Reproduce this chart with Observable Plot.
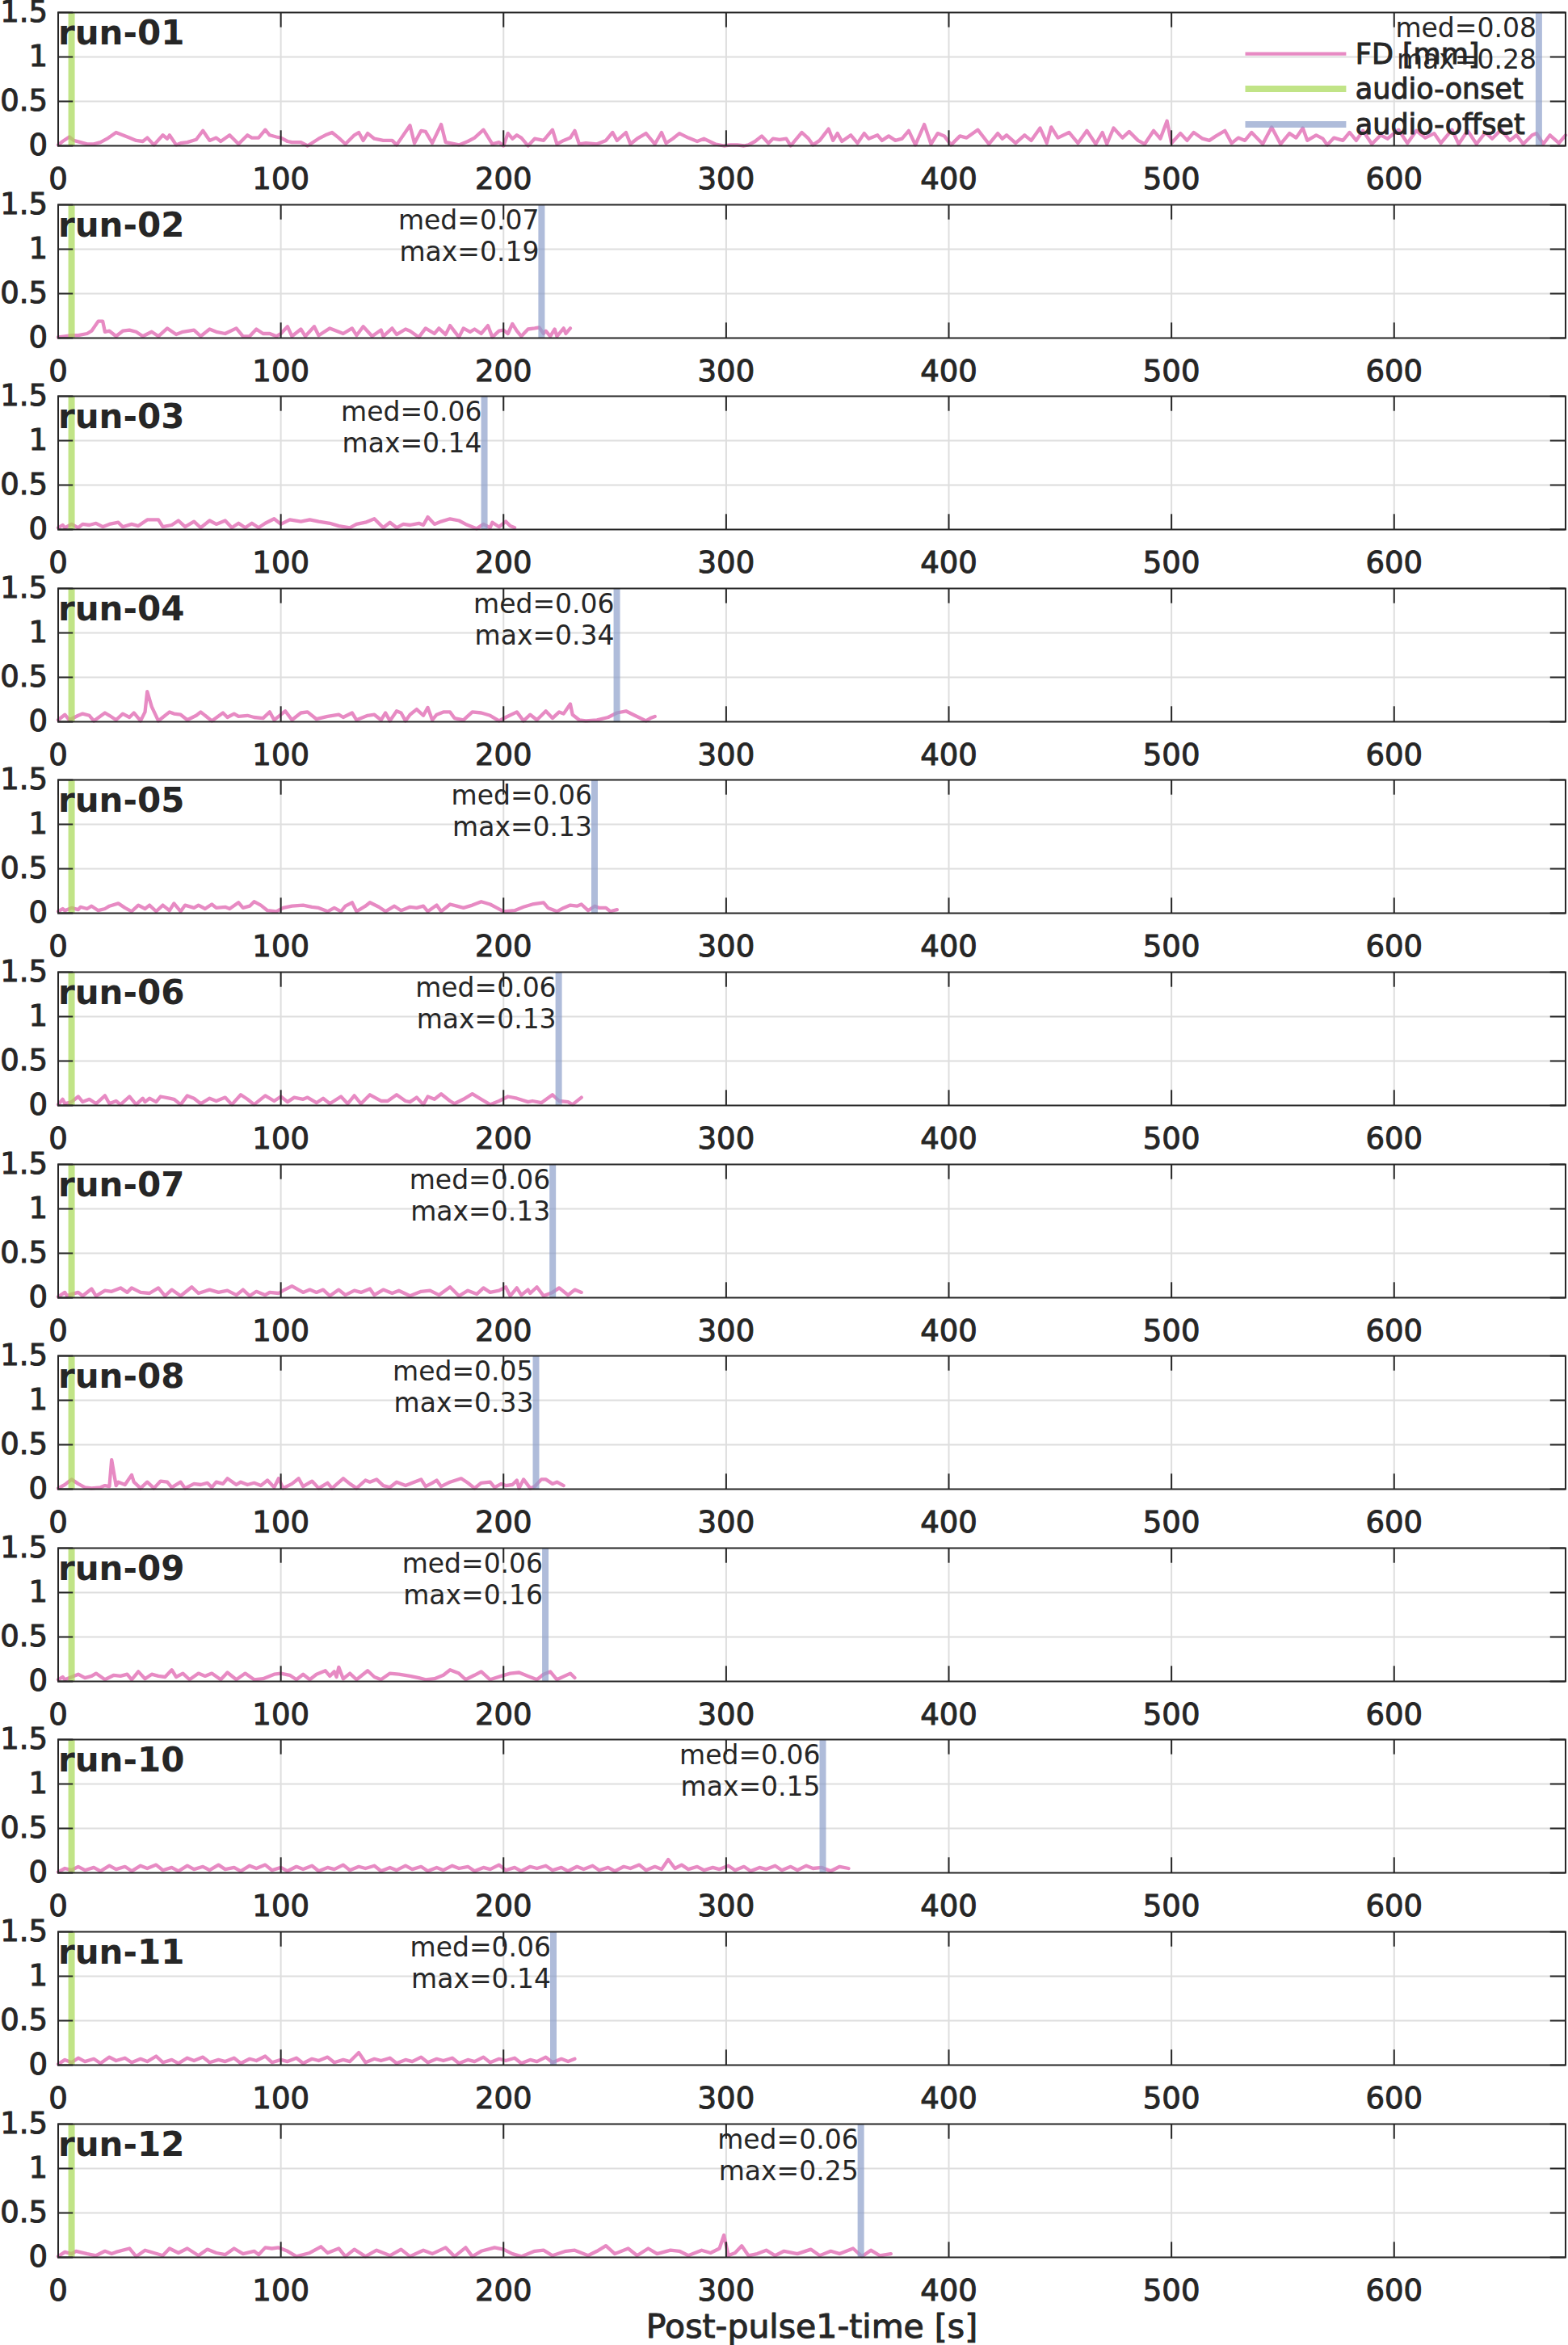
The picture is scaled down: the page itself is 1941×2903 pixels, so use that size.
<!DOCTYPE html>
<html><head><meta charset="utf-8">
<script src="https://cdn.jsdelivr.net/npm/d3@7"></script>
<script src="https://cdn.jsdelivr.net/npm/@observablehq/plot@0.6"></script>
<style>
body{margin:0;background:#fff;}
#chart{position:relative;width:1941px;height:2903px;overflow:hidden;background:#fff}
#chart svg{position:absolute;left:0;overflow:visible;max-width:none}
</style></head><body><div id="chart"></div>
<script>
// ---- data ----
const xTicks = [0, 100, 200, 300, 400, 500, 600];
const yTicks = [0, 0.5, 1, 1.5];
const xDomain = [0, 677];
const yDomain = [0, 1.5];
const runNames = ["run-01","run-02","run-03","run-04","run-05","run-06","run-07","run-08","run-09","run-10","run-11","run-12"];
const onsets = [6, 6, 6, 6, 6, 6, 6, 6, 6, 6, 6, 6];
const offsets = [665, 217.1, 191.4, 250.9, 240.9, 224.8, 222.1, 214.6, 218.8, 343.4, 222.4, 360.5];
const medLabels = ["0.08","0.07","0.06","0.06","0.06","0.06","0.06","0.05","0.06","0.06","0.06","0.06"];
const maxLabels = ["0.28","0.19","0.14","0.34","0.13","0.13","0.13","0.33","0.16","0.15","0.14","0.25"];
const legendLabels = ["FD [mm]", "audio-onset", "audio-offset"];
const xLabel = "Post-pulse1-time [s]";

// FD series: [time s, FD mm]
const run01 = [[0,.01],[2,.05],[5,.10],[7,.06],[10,.04],[13,.02],[16,.02],[19,.04],[22,.08],[26,.15],[29,.12],[32,.09],[35,.06],[38,.05],[40,.09],[43,.01],[47,.12],[49,.08],[50,.12],[53,.01],[55,.03],[58,.04],[62,.07],[65,.17],[68,.06],[71,.09],[73,.05],[77,.12],[81,.02],[85,.12],[87,.09],[90,.09],[93,.18],[95,.12],[98,.10],[100,.09],[103,.05],[105,.04],[109,.04],[112,.00],[117,.08],[120,.12],[123,.15],[126,.09],[129,.02],[133,.12],[135,.15],[137,.06],[139,.14],[142,.08],[146,.06],[150,.06],[152,.01],[158,.23],[160,.03],[163,.17],[165,.16],[168,.03],[172,.24],[174,.04],[176,.03],[180,.01],[184,.05],[187,.09],[191,.18],[195,.02],[198,.04],[200,.00],[202,.14],[204,.08],[206,.12],[208,.09],[211,.00],[214,.08],[218,.06],[222,.18],[224,.02],[227,.06],[230,.09],[232,.17],[234,.02],[237,.03],[242,.02],[246,.06],[249,.15],[251,.06],[255,.15],[257,.02],[260,.08],[264,.14],[268,.02],[271,.15],[273,.03],[276,.08],[279,.14],[283,.09],[287,.05],[290,.08],[295,.02],[299,.00],[302,.01],[305,.01],[308,.00],[310,.01],[313,.05],[316,.11],[319,.03],[321,.08],[324,.07],[327,.08],[329,.00],[334,.15],[337,.08],[339,.01],[342,.06],[346,.19],[348,.06],[350,.14],[352,.05],[356,.12],[359,.03],[362,.14],[364,.08],[368,.12],[370,.06],[373,.11],[376,.06],[379,.08],[382,.17],[385,.01],[389,.24],[392,.02],[395,.14],[398,.11],[401,.01],[405,.11],[408,.09],[413,.18],[418,.02],[422,.14],[424,.08],[426,.12],[430,.03],[434,.12],[437,.06],[441,.20],[444,.03],[446,.21],[449,.09],[454,.15],[458,.03],[462,.17],[466,.02],[469,.15],[471,.02],[474,.20],[478,.09],[481,.16],[485,.06],[488,.02],[492,.17],[495,.08],[498,.28],[500,.03],[504,.14],[507,.06],[510,.15],[514,.08],[517,.06],[520,.11],[524,.17],[527,.03],[530,.09],[533,.06],[536,.15],[541,.02],[545,.21],[549,.02],[553,.14],[556,.09],[559,.20],[561,.06],[565,.12],[568,.08],[570,.01],[573,.09],[577,.06],[580,.15],[583,.06],[586,.17],[590,.02],[594,.12],[597,.08],[602,.18],[606,.03],[610,.17],[614,.09],[618,.14],[621,.03],[626,.18],[629,.02],[633,.17],[637,.02],[641,.15],[644,.08],[648,.18],[652,.06],[655,.12],[658,.02],[662,.12],[664,.14],[667,.02],[670,.12],[674,.03],[677,.12]];
const run02 = [[0,.01],[3,.02],[6,.03],[9,.03],[13,.05],[15,.08],[18,.19],[20,.19],[21,.07],[23,.08],[26,.02],[29,.08],[32,.09],[35,.07],[38,.02],[42,.07],[45,.02],[49,.11],[53,.04],[56,.07],[61,.09],[64,.02],[68,.10],[71,.07],[75,.05],[80,.11],[83,.02],[86,.02],[89,.10],[92,.05],[95,.05],[98,.02],[100,.05],[103,.13],[105,.02],[109,.10],[111,.02],[115,.13],[117,.03],[122,.11],[126,.07],[128,.05],[132,.11],[134,.03],[137,.13],[141,.02],[145,.09],[146,.02],[150,.11],[152,.04],[156,.10],[158,.08],[162,.01],[165,.11],[169,.05],[171,.11],[174,.04],[176,.14],[180,.01],[182,.11],[185,.07],[187,.10],[190,.05],[193,.14],[195,.01],[198,.08],[200,.09],[202,.05],[204,.16],[206,.08],[208,.02],[211,.10],[214,.11],[216,.12],[218,.05],[219,.08],[221,.02],[223,.10],[224,.02],[227,.11],[228,.05],[230,.11]];
const run03 = [[0,.02],[2,.05],[3,.02],[6,.06],[9,.02],[11,.06],[14,.05],[17,.07],[20,.03],[23,.06],[27,.08],[29,.03],[33,.06],[36,.04],[40,.11],[45,.11],[47,.03],[51,.05],[54,.10],[57,.03],[61,.09],[64,.02],[68,.10],[71,.06],[75,.10],[78,.02],[81,.07],[84,.02],[87,.07],[90,.02],[93,.07],[97,.12],[100,.06],[104,.11],[109,.09],[113,.11],[117,.09],[122,.07],[126,.04],[131,.02],[134,.06],[138,.08],[142,.12],[146,.02],[149,.08],[152,.02],[155,.06],[158,.05],[162,.07],[164,.05],[166,.14],[169,.06],[172,.09],[176,.12],[180,.10],[183,.06],[188,.01],[191,.06],[194,.02],[195,.08],[198,.03],[201,.09],[203,.04],[205,.02]];
const run04 = [[0,.02],[3,.08],[5,.02],[9,.07],[11,.09],[14,.07],[16,.01],[21,.10],[23,.07],[26,.02],[29,.09],[32,.05],[34,.10],[37,.01],[39,.11],[40,.34],[42,.17],[45,.01],[47,.05],[50,.11],[52,.09],[55,.08],[58,.02],[62,.07],[64,.11],[67,.05],[69,.01],[74,.10],[76,.05],[79,.09],[81,.06],[85,.07],[88,.05],[92,.04],[95,.11],[97,.02],[99,.06],[102,.12],[105,.02],[109,.10],[112,.11],[116,.03],[121,.06],[126,.08],[128,.05],[132,.10],[134,.02],[139,.07],[142,.08],[145,.02],[147,.10],[149,.01],[152,.12],[154,.10],[156,.01],[158,.08],[161,.14],[164,.07],[166,.16],[168,.02],[170,.08],[173,.11],[176,.11],[178,.04],[182,.02],[186,.11],[190,.10],[194,.07],[198,.01],[201,.05],[206,.11],[209,.01],[212,.08],[215,.02],[219,.12],[222,.04],[225,.11],[227,.09],[230,.20],[231,.08],[234,.02],[237,.01],[242,.02],[247,.05],[251,.10],[255,.12],[259,.07],[264,.01],[266,.04],[268,.06]];
const run05 = [[0,.02],[2,.05],[3,.03],[6,.06],[9,.04],[10,.07],[13,.05],[15,.08],[18,.03],[21,.05],[23,.08],[27,.11],[30,.06],[33,.02],[36,.09],[39,.05],[41,.09],[44,.02],[47,.09],[50,.03],[52,.11],[55,.02],[57,.09],[61,.06],[63,.09],[66,.05],[69,.10],[71,.06],[75,.07],[77,.05],[81,.12],[83,.06],[86,.08],[88,.13],[91,.09],[94,.03],[98,.02],[101,.06],[105,.08],[110,.09],[114,.07],[117,.06],[121,.02],[124,.06],[127,.02],[129,.08],[132,.12],[134,.02],[138,.08],[140,.12],[144,.07],[147,.02],[151,.08],[154,.03],[158,.07],[161,.06],[164,.08],[166,.02],[170,.09],[172,.02],[176,.10],[179,.08],[182,.06],[186,.09],[190,.13],[194,.10],[197,.06],[200,.02],[205,.03],[209,.07],[213,.10],[218,.12],[220,.06],[224,.02],[227,.06],[230,.09],[233,.08],[235,.10],[238,.03],[241,.08],[243,.06],[246,.06],[248,.02],[251,.04]];
const run06 = [[0,.01],[2,.07],[3,.02],[6,.04],[9,.10],[11,.04],[14,.07],[17,.02],[21,.11],[23,.02],[26,.05],[28,.01],[32,.10],[35,.01],[38,.08],[39,.04],[41,.08],[44,.04],[46,.10],[50,.08],[52,.07],[55,.01],[58,.11],[61,.08],[64,.02],[68,.08],[71,.05],[75,.09],[78,.01],[82,.12],[85,.07],[88,.01],[93,.11],[97,.05],[100,.10],[103,.04],[106,.09],[110,.07],[112,.09],[116,.03],[119,.08],[122,.02],[127,.10],[130,.02],[133,.11],[136,.02],[140,.12],[145,.05],[148,.05],[152,.12],[156,.05],[158,.04],[161,.09],[164,.01],[166,.10],[169,.07],[172,.13],[176,.05],[178,.02],[182,.07],[186,.13],[190,.07],[194,.01],[198,.05],[202,.10],[206,.08],[211,.04],[213,.05],[217,.03],[222,.12],[225,.05],[229,.04],[231,.01],[235,.09]];
const run07 = [[0,.01],[3,.06],[4,.02],[6,.04],[9,.06],[11,.02],[15,.10],[17,.02],[21,.08],[24,.07],[28,.11],[31,.06],[33,.11],[37,.06],[41,.05],[45,.11],[48,.02],[51,.09],[55,.02],[60,.12],[63,.05],[68,.09],[72,.06],[76,.08],[80,.03],[83,.09],[86,.02],[89,.07],[93,.03],[95,.06],[99,.05],[101,.08],[105,.13],[110,.06],[113,.09],[116,.06],[119,.09],[122,.02],[126,.09],[129,.03],[133,.08],[136,.06],[140,.10],[142,.03],[146,.09],[150,.05],[153,.08],[158,.02],[163,.07],[167,.08],[171,.03],[176,.12],[180,.02],[184,.08],[188,.04],[191,.11],[194,.06],[198,.08],[201,.12],[203,.02],[206,.11],[208,.03],[211,.09],[212,.05],[215,.12],[218,.02],[222,.06],[225,.11],[229,.03],[232,.09],[235,.06]];
const run08 = [[0,.01],[3,.05],[6,.11],[9,.06],[12,.02],[15,.01],[19,.02],[21,.04],[23,.03],[24,.33],[26,.04],[27,.08],[30,.05],[33,.16],[34,.08],[37,.01],[40,.08],[43,.01],[46,.09],[49,.08],[51,.02],[55,.08],[57,.01],[61,.06],[64,.05],[67,.07],[69,.02],[71,.08],[74,.06],[76,.12],[80,.05],[82,.08],[85,.05],[88,.07],[91,.04],[94,.10],[97,.02],[99,.12],[101,.01],[105,.06],[108,.12],[110,.03],[114,.09],[117,.01],[121,.07],[123,.01],[128,.12],[131,.06],[134,.01],[138,.10],[140,.08],[143,.11],[146,.04],[149,.02],[152,.08],[156,.04],[159,.07],[163,.11],[165,.03],[168,.07],[170,.10],[172,.03],[176,.08],[181,.12],[184,.07],[187,.01],[190,.07],[194,.08],[196,.02],[199,.06],[201,.04],[204,.05],[206,.10],[207,.01],[209,.11],[212,.01],[214,.03],[217,.11],[219,.11],[222,.06],[224,.08],[227,.04]];
const run09 = [[0,.02],[2,.05],[3,.02],[6,.05],[9,.08],[12,.04],[15,.06],[17,.09],[21,.02],[25,.07],[28,.06],[31,.08],[33,.02],[36,.11],[39,.03],[42,.08],[45,.06],[48,.05],[51,.13],[53,.05],[56,.09],[59,.02],[63,.09],[66,.06],[69,.09],[73,.02],[76,.10],[80,.02],[84,.09],[88,.02],[92,.03],[97,.08],[100,.09],[104,.07],[107,.02],[110,.08],[113,.02],[116,.08],[120,.12],[122,.06],[124,.11],[125,.05],[126,.16],[128,.03],[131,.09],[134,.02],[139,.12],[142,.05],[145,.02],[149,.09],[153,.08],[158,.06],[162,.04],[165,.02],[169,.03],[173,.07],[176,.13],[180,.09],[183,.02],[187,.07],[190,.11],[194,.02],[199,.06],[203,.09],[207,.10],[211,.06],[215,.02],[218,.08],[221,.11],[224,.02],[230,.09],[232,.04]];
const run10 = [[0,.01],[3,.05],[6,.03],[9,.07],[12,.03],[16,.06],[19,.02],[23,.08],[26,.04],[30,.07],[33,.02],[37,.08],[40,.05],[44,.09],[47,.03],[51,.06],[54,.02],[58,.08],[61,.04],[65,.07],[68,.03],[72,.09],[75,.04],[79,.06],[82,.02],[86,.08],[89,.05],[93,.09],[96,.03],[100,.06],[103,.02],[107,.07],[110,.04],[114,.08],[117,.02],[121,.06],[124,.04],[128,.09],[131,.03],[135,.07],[138,.05],[142,.08],[145,.02],[149,.06],[152,.03],[156,.08],[159,.04],[163,.07],[166,.02],[170,.06],[173,.03],[177,.08],[180,.05],[184,.07],[187,.02],[191,.06],[194,.04],[198,.09],[201,.03],[205,.06],[208,.02],[212,.07],[215,.05],[219,.08],[222,.03],[226,.06],[229,.02],[233,.07],[236,.04],[240,.08],[243,.03],[247,.06],[250,.02],[254,.07],[257,.05],[261,.09],[264,.03],[268,.07],[271,.04],[274,.15],[277,.05],[280,.09],[283,.04],[287,.07],[290,.03],[294,.06],[297,.04],[301,.08],[304,.03],[308,.07],[311,.02],[315,.06],[318,.04],[322,.08],[325,.03],[329,.07],[332,.03],[336,.08],[339,.05],[343,.06],[347,.02],[351,.07],[355,.05]];
const run11 = [[0,.01],[3,.06],[6,.03],[9,.08],[12,.04],[16,.07],[19,.02],[23,.09],[26,.05],[30,.08],[33,.03],[37,.07],[40,.04],[44,.10],[47,.03],[51,.06],[54,.02],[58,.08],[61,.05],[65,.09],[68,.03],[72,.06],[75,.04],[79,.08],[82,.02],[86,.07],[89,.05],[93,.10],[96,.03],[100,.06],[103,.04],[107,.08],[110,.02],[114,.07],[117,.05],[121,.09],[124,.03],[128,.06],[131,.04],[135,.14],[138,.03],[142,.07],[145,.05],[149,.08],[152,.02],[156,.06],[159,.04],[163,.09],[166,.03],[170,.07],[173,.05],[177,.08],[180,.02],[184,.06],[187,.04],[191,.09],[194,.03],[198,.07],[201,.05],[205,.08],[208,.02],[212,.06],[215,.04],[219,.09],[222,.03],[226,.07],[229,.04],[232,.07]];
const run12 = [[0,.01],[3,.06],[6,.04],[8,.07],[13,.04],[17,.02],[21,.07],[24,.04],[26,.06],[32,.10],[35,.01],[39,.08],[43,.05],[47,.02],[50,.10],[54,.05],[58,.10],[63,.02],[67,.09],[71,.05],[75,.03],[79,.10],[83,.04],[88,.07],[90,.03],[93,.11],[96,.10],[99,.11],[103,.07],[107,.01],[113,.05],[118,.12],[121,.05],[126,.10],[129,.01],[133,.09],[138,.01],[143,.08],[149,.02],[154,.09],[158,.01],[164,.08],[168,.04],[174,.11],[178,.01],[183,.11],[186,.01],[190,.07],[196,.11],[200,.09],[204,.04],[208,.01],[214,.07],[218,.08],[222,.02],[228,.07],[232,.08],[238,.02],[242,.07],[246,.13],[250,.04],[256,.10],[260,.02],[265,.10],[269,.04],[275,.08],[279,.07],[283,.02],[289,.08],[293,.05],[297,.10],[299,.25],[301,.02],[304,.05],[307,.13],[310,.02],[314,.04],[318,.08],[322,.02],[326,.07],[332,.04],[338,.09],[342,.02],[347,.07],[351,.04],[357,.10],[361,.01],[365,.08],[369,.02],[374,.04]];
const runs = [run01, run02, run03, run04, run05, run06, run07, run08, run09, run10, run11, run12];

// ---- style / layout ----
const C = {fd: "#e78ac3", on: "#a6d854", off: "#8da0cb", ink: "#262626", grid: "#dedede"};
const W = 1941, STEP = 237.6, MT = 15, PH = 165, ML = 71.5, MR = 3.5;
const PW = W - ML - MR, TICK = 18.7, THICK = 1;
const AX = "'DejaVu Sans', 'Noto Sans', sans-serif";
const chart = document.getElementById("chart");

runs.forEach((data, i) => {
  const last = i === runs.length - 1;
  const H = last ? 2903 - i * STEP : STEP;
  const marks = [
    Plot.gridX(xTicks.slice(1), {stroke: C.grid, strokeOpacity: 1, strokeWidth: 2}),
    Plot.gridY([0.5, 1], {stroke: C.grid, strokeOpacity: 1, strokeWidth: 2}),
    Plot.line(data, {x: d => d[0], y: d => d[1], stroke: C.fd, strokeWidth: 4.3, strokeLinejoin: "round"}),
    Plot.ruleX([onsets[i]], {x: d => d, stroke: C.on, strokeOpacity: 0.7, strokeWidth: 8}),
    Plot.ruleX([offsets[i]], {x: d => d, stroke: C.off, strokeOpacity: 0.7, strokeWidth: 8}),
    Plot.frame({stroke: C.ink, strokeWidth: 2}),
    Plot.tickX(xTicks, {x: d => d, insetTop: PH - TICK, stroke: C.ink, strokeWidth: 2}),
    Plot.tickX(xTicks, {x: d => d, insetBottom: PH - TICK, stroke: C.ink, strokeWidth: 2}),
    Plot.tickY(yTicks, {y: d => d, insetRight: PW - TICK, stroke: C.ink, strokeWidth: 2}),
    Plot.tickY(yTicks, {y: d => d, insetLeft: PW - TICK, stroke: C.ink, strokeWidth: 2}),
    Plot.axisX(xTicks, {tickSize: 0, tickPadding: 27, fontSize: 37, fontFamily: AX, fill: C.ink, label: null}),
    Plot.axisY(yTicks, {tickSize: 0, tickPadding: 13, tickFormat: d => String(d), fontSize: 37, fontFamily: AX, fill: C.ink, label: null}),
    Plot.text([runNames[i]], {frameAnchor: "top-left", text: d => d, lineAnchor: "top", textAnchor: "start", dy: 10, fontSize: 42, fontWeight: "bold", fontFamily: AX, fill: C.ink}),
    Plot.text([offsets[i]], {x: d => d, frameAnchor: "top", lineAnchor: "top", textAnchor: "end", dx: -3, dy: 3,
      text: () => `med=${medLabels[i]}\nmax=${maxLabels[i]}`, lineHeight: 1.17, fontSize: 33, fontFamily: AX, fill: C.ink})
  ];
  if (last) {
    marks.push(Plot.text([xLabel], {frameAnchor: "bottom", text: d => d, lineAnchor: "top", dy: 70, fontSize: 41, fontFamily: AX, fill: C.ink, stroke: C.ink, strokeWidth: THICK}));
  }
  const svg = Plot.plot({
    width: W, height: H,
    marginLeft: ML, marginRight: MR, marginTop: MT, marginBottom: H - MT - PH,
    x: {domain: xDomain, axis: null},
    y: {domain: yDomain, axis: null},
    style: {background: "transparent", overflow: "visible"},
    marks
  });
  // slightly heavier tick labels (the reference uses a medium-weight face)
  d3.select(svg).selectAll('[aria-label="x-axis tick label"] text, [aria-label="y-axis tick label"] text')
    .attr("stroke", C.ink).attr("stroke-width", THICK);
  svg.style.top = (i * STEP) + "px";
  chart.appendChild(svg);

  if (i === 0) {
    // legend (top-right of first panel)
    const g = d3.select(svg).append("g").attr("text-anchor", "start");
    const items = [
      {label: legendLabels[0], color: C.fd, w: 4.3, op: 1, y: 66.7},
      {label: legendLabels[1], color: C.on, w: 8, op: 0.7, y: 110},
      {label: legendLabels[2], color: C.off, w: 8, op: 0.7, y: 154}
    ];
    items.forEach(it => {
      g.append("line").attr("x1", 1541.5).attr("x2", 1666.4).attr("y1", it.y).attr("y2", it.y)
        .attr("stroke", it.color).attr("stroke-width", it.w).attr("stroke-opacity", it.op);
      g.append("text").attr("x", 1677.8).attr("y", it.y).attr("dy", "0.35em").attr("text-anchor", "start")
        .attr("font-size", 35).attr("font-family", AX).attr("fill", C.ink)
        .attr("stroke", C.ink).attr("stroke-width", THICK).text(it.label);
    });
  }
});
</script></body></html>
